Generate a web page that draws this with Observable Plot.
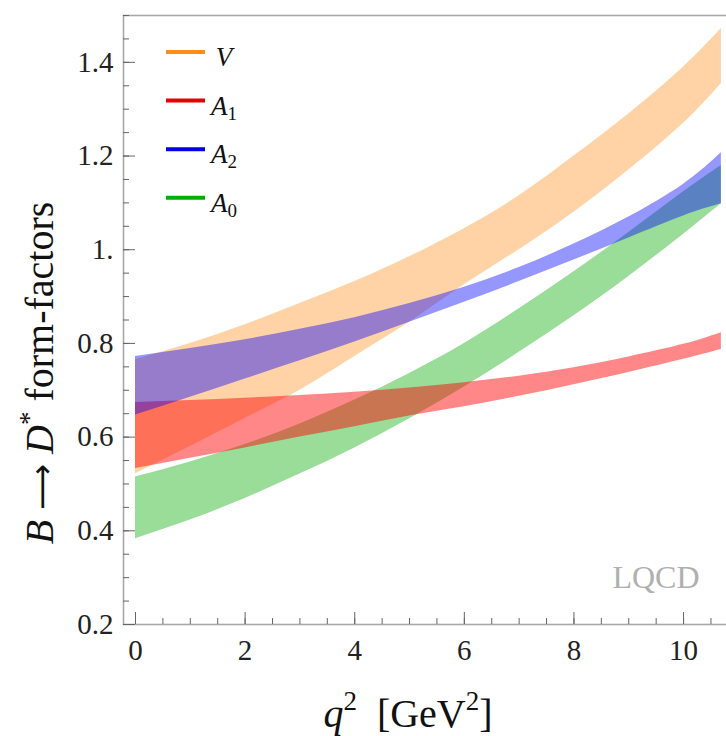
<!DOCTYPE html>
<html><head><meta charset="utf-8">
<script src="https://cdn.jsdelivr.net/npm/d3@7"></script>
<script src="https://cdn.jsdelivr.net/npm/@observablehq/plot@0.6"></script>
<style>
body{margin:0;background:#fff;}
#wrap{position:relative;width:726px;height:736px;overflow:hidden;}
</style></head><body><div id="wrap"></div>
<script>
// q^2 sample points (GeV^2)
const q2 = [0, 1, 2, 3, 4, 5, 6, 7, 8, 9, 10, 10.69];
// Form-factor bands (lower / upper edges)
const V_lo  = [0.522, 0.580, 0.640, 0.700, 0.772, 0.845, 0.925, 1.000, 1.080, 1.170, 1.270, 1.355];
const V_hi  = [0.765, 0.800, 0.840, 0.885, 0.932, 0.985, 1.045, 1.115, 1.200, 1.290, 1.390, 1.472];
const A1_lo = [0.533, 0.555, 0.577, 0.600, 0.622, 0.645, 0.665, 0.687, 0.712, 0.738, 0.766, 0.787];
const A1_hi = [0.674, 0.678, 0.683, 0.689, 0.696, 0.705, 0.716, 0.730, 0.748, 0.771, 0.798, 0.823];
const A2_lo = [0.647, 0.685, 0.724, 0.763, 0.803, 0.845, 0.888, 0.932, 0.978, 1.025, 1.072, 1.098];
const A2_hi = [0.772, 0.789, 0.808, 0.830, 0.855, 0.885, 0.920, 0.962, 1.012, 1.070, 1.140, 1.207];
const A0_lo = [0.383, 0.423, 0.469, 0.521, 0.577, 0.639, 0.707, 0.781, 0.859, 0.943, 1.033, 1.098];
const A0_hi = [0.515, 0.547, 0.584, 0.628, 0.679, 0.736, 0.800, 0.874, 0.953, 1.037, 1.124, 1.180];

// Legend / series
const seriesNames  = ["V", "A1", "A2", "A0"];
const legendMain   = ["V", "A", "A", "A"];
const legendSub    = ["", "1", "2", "0"];
const bandColors   = {V: "#ff8000", A1: "#ff0000", A2: "#0000ff", A0: "#00aa00"};
const bandOpacity  = {V: 0.35, A1: 0.47, A2: 0.41, A0: 0.40};
const legendColors = {V: "#ff8c1a", A1: "#e60000", A2: "#0000e0", A0: "#00b000"};
const drawOrder    = ["V", "A0", "A1", "A2"];

// Ticks
const xMajor = [0, 2, 4, 6, 8, 10];
const xMinor = [0, 0.5, 1, 1.5, 2, 2.5, 3, 3.5, 4, 4.5, 5, 5.5, 6, 6.5, 7, 7.5, 8, 8.5, 9, 9.5, 10, 10.5];
const xTickLabels = ["0", "2", "4", "6", "8", "10"];
const yMajor = [0.2, 0.4, 0.6, 0.8, 1.0, 1.2, 1.4];
const yMinor = [0.2, 0.25, 0.3, 0.35, 0.4, 0.45, 0.5, 0.55, 0.6, 0.65, 0.7, 0.75, 0.8, 0.85, 0.9, 0.95,
                1.0, 1.05, 1.1, 1.15, 1.2, 1.25, 1.3, 1.35, 1.4, 1.45, 1.5];
const yTickLabels = ["0.2", "0.4", "0.6", "0.8", "1.", "1.2", "1.4"];

const bands = {V: [V_lo, V_hi], A1: [A1_lo, A1_hi], A2: [A2_lo, A2_hi], A0: [A0_lo, A0_hi]};
const rows = [];
for (const s of seriesNames) {
  q2.forEach((q, i) => rows.push({series: s, q, lo: bands[s][0][i], hi: bands[s][1][i]}));
}

const font = "'Liberation Serif', 'DejaVu Serif', serif";
const tickColor = "#666";

const plot = Plot.plot({
  width: 726, height: 736,
  marginTop: 15, marginBottom: 112, marginLeft: 123, marginRight: -2,
  x: {domain: [-0.219, 10.82], label: null},
  y: {domain: [0.2, 1.5], label: null},
  style: {fontFamily: font, fontSize: "29px", background: "#fff", color: "#222"},
  marks: [
    ...drawOrder.map(s => Plot.areaY(rows.filter(r => r.series === s), {
      x: "q", y1: "lo", y2: "hi", fill: bandColors[s], fillOpacity: bandOpacity[s], curve: "natural"
    })),
    Plot.frame({stroke: "#a8a8a8", strokeWidth: 1.6}),
    Plot.axisX(xMinor, {anchor: "bottom", tickSize: -6, tickFormat: () => "", stroke: tickColor, label: null}),
    Plot.axisX(xMajor, {anchor: "bottom", tickSize: -12, tickFormat: () => "", stroke: tickColor, label: null}),
    Plot.axisX(xMajor, {anchor: "bottom", tickSize: 0, tickPadding: 15, fill: "#222",
      tickFormat: d => xTickLabels[xMajor.indexOf(d)], label: null}),
    Plot.axisY(yMinor, {anchor: "left", tickSize: -6, tickFormat: () => "", stroke: tickColor, label: null}),
    Plot.axisY(yMajor, {anchor: "left", tickSize: -12, tickFormat: () => "", stroke: tickColor, label: null}),
    Plot.axisY(yMajor, {anchor: "left", tickSize: 0, tickPadding: 10, fill: "#222",
      tickFormat: d => yTickLabels[yMajor.indexOf(d)], label: null}),
    Plot.text(["LQCD"], {frameAnchor: "bottom-right", dx: -29, dy: -37, text: d => d,
      fill: "#b0b0b0", fontSize: 32, textAnchor: "end", lineAnchor: "bottom"})
  ]
});

document.getElementById("wrap").appendChild(plot);

const svg = d3.select(plot);
// Legend
const lg = svg.append("g").attr("font-family", font);
seriesNames.forEach((s, i) => {
  const y = 52 + i * 48.6;
  lg.append("line").attr("x1", 166).attr("x2", 205).attr("y1", y).attr("y2", y)
    .attr("stroke", legendColors[s]).attr("stroke-width", 4);
  const t = lg.append("text").attr("x", 224).attr("y", y + 14).attr("font-size", 27).attr("fill", "#111");
  t.append("tspan").attr("font-style", "italic").text(legendMain[i]);
  if (legendSub[i]) t.append("tspan").attr("dy", 5).attr("font-size", 19).text(legendSub[i]);
});

// X axis label: q^2 [GeV^2]
const xl = svg.append("text").attr("x", 408).attr("y", 727).attr("text-anchor", "middle")
  .attr("font-family", font).attr("font-size", 40).attr("fill", "#111");
xl.append("tspan").attr("font-style", "italic").text("q");
xl.append("tspan").attr("dy", -17).attr("font-size", 27).text("2");
xl.append("tspan").attr("dy", 17).text("\u2002[GeV");
xl.append("tspan").attr("dy", -17).attr("font-size", 27).text("2");
xl.append("tspan").attr("dy", 17).text("]");

// Y axis label: B -> D* form-factors
const yl = svg.append("text").attr("transform", "translate(53,373) rotate(-90)").attr("text-anchor", "middle")
  .attr("font-family", font).attr("font-size", 40).attr("fill", "#111");
yl.append("tspan").attr("font-style", "italic").text("B");
yl.append("tspan").text(" ");
yl.append("tspan").attr("font-family", "'DejaVu Sans'").attr("font-size", 32).text("\u27F6");
yl.append("tspan").text(" ");
yl.append("tspan").attr("font-style", "italic").text("D");
yl.append("tspan").attr("dy", -15).attr("font-size", 27).text("*");
yl.append("tspan").attr("dy", 15).text(" form-factors");
</script>
</body></html>
